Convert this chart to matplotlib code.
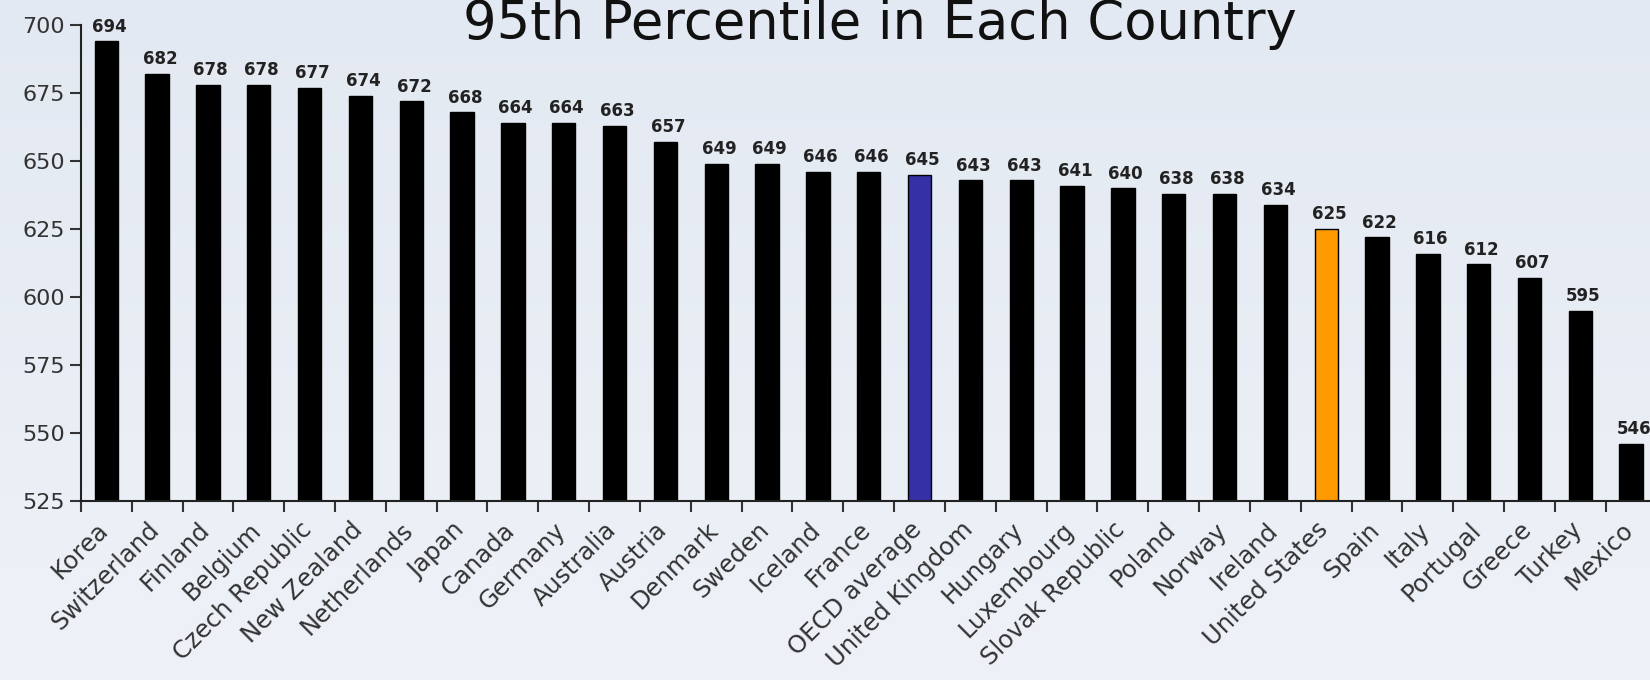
import matplotlib
matplotlib.use("Agg")
import matplotlib.pyplot as plt
import matplotlib.transforms as mtransforms
from matplotlib.colors import LinearSegmentedColormap
import numpy as np

countries = ["Korea", "Switzerland", "Finland", "Belgium", "Czech Republic",
             "New Zealand", "Netherlands", "Japan", "Canada", "Germany",
             "Australia", "Austria", "Denmark", "Sweden", "Iceland", "France",
             "OECD average", "United Kingdom", "Hungary", "Luxembourg",
             "Slovak Republic", "Poland", "Norway", "Ireland", "United States",
             "Spain", "Italy", "Portugal", "Greece", "Turkey", "Mexico"]
scores = [694, 682, 678, 678, 677, 674, 672, 668, 664, 664, 663, 657, 649, 649,
          646, 646, 645, 643, 643, 641, 640, 638, 638, 634, 625, 622, 616, 612,
          607, 595, 546]
yticks = [525, 550, 575, 600, 625, 650, 675, 700]

# highlight colours
colors = []
for c in countries:
    if c == "OECD average":
        colors.append("#3530a3")
    elif c == "United States":
        colors.append("#ff9a00")
    else:
        colors.append("black")

bg = "#e9eef5"
fig = plt.figure(figsize=(16.5, 6.8), dpi=100, facecolor=bg)

# soft vertical background gradient
bgax = fig.add_axes([0, 0, 1, 1], zorder=-1)
cmap = LinearSegmentedColormap.from_list("bg", ["#e3e9f2", "#eef2f8"])
bgax.imshow(np.linspace(0, 1, 256).reshape(-1, 1), cmap=cmap, aspect="auto",
            extent=[0, 1, 0, 1], origin="upper")
bgax.axis("off")

ax = fig.add_axes([0.049, 0.2632, 0.955, 0.70])
ax.set_facecolor("none")

x = np.arange(len(countries))
ax.bar(x, [s - 525 for s in scores], bottom=525, width=0.46, color=colors,
       edgecolor="black", linewidth=1)

for xi, s in zip(x, scores):
    ax.annotate(str(s), (xi, s), xytext=(2, 4), textcoords="offset points",
                ha="center", va="bottom", fontsize=12, fontweight="bold",
                color="#222222")

ax.set_ylim(525, 700)
ax.set_xlim(-0.5, 30.5)
ax.set_yticks(yticks)
ax.tick_params(axis="y", labelsize=16, length=8, width=1.5, colors="#333333",
               labelcolor="#333333")

ax.set_xticks(x)
ax.set_xticklabels(countries, rotation=45, ha="right", rotation_mode="anchor",
                   fontsize=17.5, color="#333333")
ax.tick_params(axis="x", which="major", length=0, pad=12)
shift = mtransforms.ScaledTranslation(-0.1, 0, fig.dpi_scale_trans)
for lab in ax.get_xticklabels():
    lab.set_transform(lab.get_transform() + shift)
ax.set_xticks(np.arange(-0.5, 31, 1), minor=True)
ax.tick_params(axis="x", which="minor", length=8, width=1.5, color="#333333")

for side in ["top", "right"]:
    ax.spines[side].set_visible(False)
for side in ["left", "bottom"]:
    ax.spines[side].set_linewidth(1.5)
    ax.spines[side].set_color("#222222")

fig.text(0.533, 0.943, "95th Percentile in Each Country", ha="center",
         va="baseline", fontsize=38, color="#111111")

fig.savefig("out.png", facecolor=bg)
